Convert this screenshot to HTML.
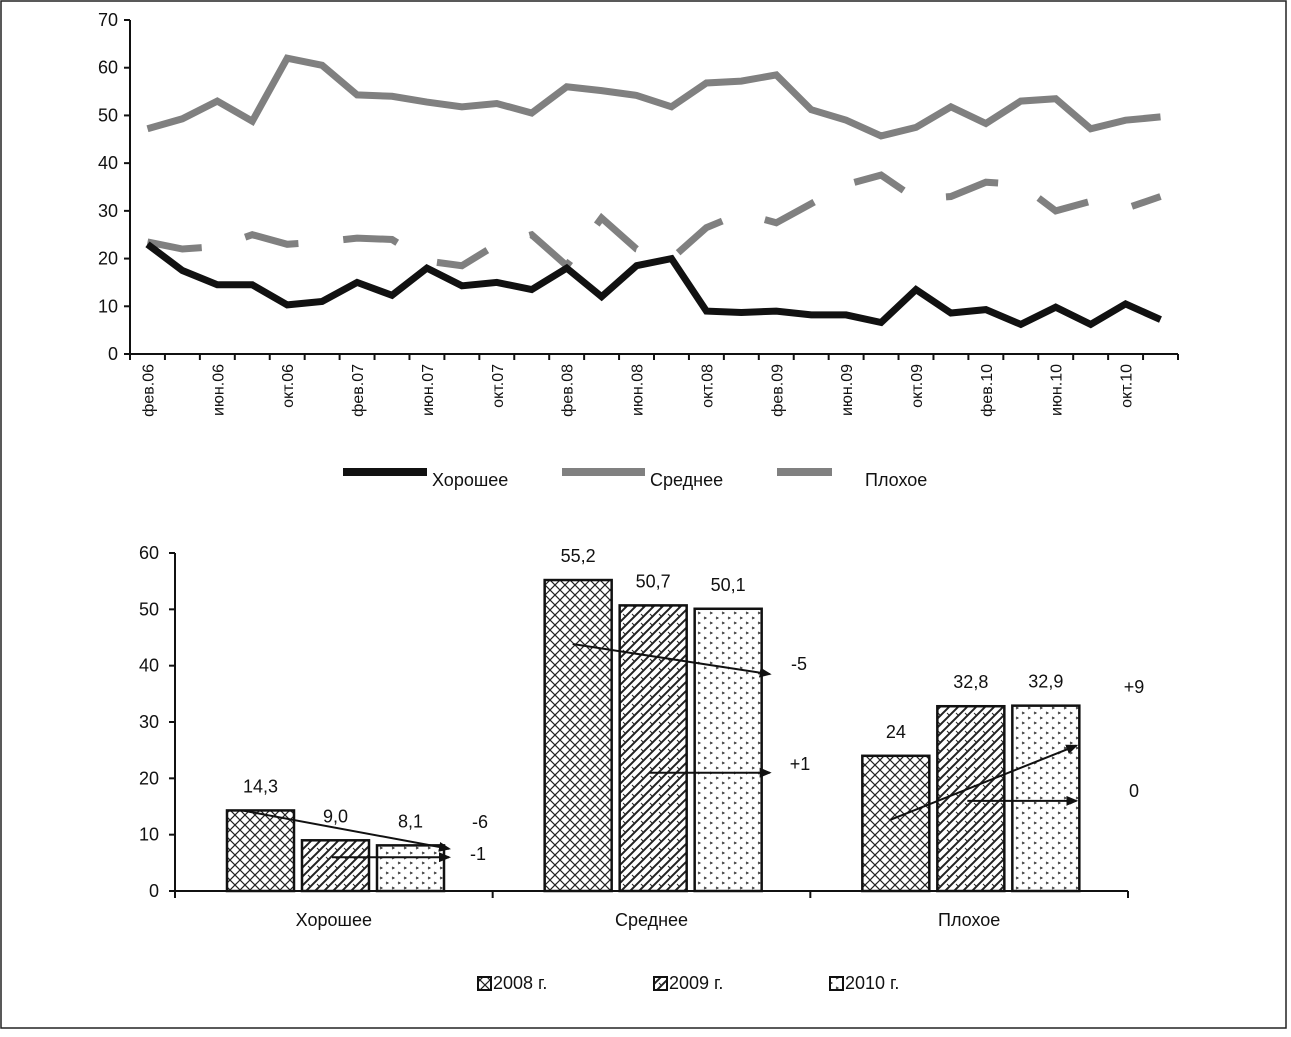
<!DOCTYPE html>
<html><head><meta charset="utf-8"><style>
body{margin:0;background:#fff;}
svg text{font-family:"Liberation Sans",sans-serif;fill:#111;}
</style></head><body>
<svg id="c" width="1291" height="1032" xmlns="http://www.w3.org/2000/svg">
<defs>
<pattern id="p2008" width="10" height="10" patternUnits="userSpaceOnUse"><path d="M0 0L10 10M10 0L0 10" stroke="#222" stroke-width="1.2"/></pattern>
<pattern id="p2009" width="9" height="9" patternUnits="userSpaceOnUse"><path d="M-2 11L11 -2M-2 2L2 -2M7 11L11 7" stroke="#222" stroke-width="2"/><path d="M2 2L5 5" stroke="#222" stroke-width="1"/></pattern>
<pattern id="p2010" width="12" height="10" patternUnits="userSpaceOnUse"><path d="M2 2l2 1l-2 1M8 7l2 1l-2 1" stroke="#333" stroke-width="1" fill="none"/></pattern>
<marker id="arr" markerWidth="12" markerHeight="10" refX="10" refY="5" orient="auto" markerUnits="userSpaceOnUse"><path d="M0 0L12 5L0 10z" fill="#111"/></marker>
</defs>
<rect x="1" y="1" width="1285" height="1027" fill="none" stroke="#222" stroke-width="1.5"/>
<g id="topChart"></g>
<g id="botChart"></g>
</svg>
<script>
const months=["фев","апр","июн","авг","окт","дек"];
const years=["06","07","08","09","10"];
const good=[23,17.5,14.5,14.5,10.3,11,15,12.3,18,14.3,15,13.5,18,12,18.5,20,9,8.7,9,8.2,8.2,6.6,13.5,8.6,9.3,6.2,9.8,6.2,10.5,7.2];
const mid=[47.2,49.3,53,48.8,62,60.5,54.3,54,52.8,51.8,52.5,50.5,56,55.2,54.2,51.8,56.8,57.2,58.5,51.2,49,45.7,47.5,51.8,48.3,53,53.5,47.2,49,49.7];
const bad=[23.5,22,22.5,25,23,23.5,24.3,24,19.5,18.5,23,25,18.5,28.5,22,20,26.5,29.5,27.5,31.5,35.5,37.5,32.5,33,36,35.5,30,32,30.5,33];
const yTicks=[0,10,20,30,40,50,60,70];
const bcats=["Хорошее","Среднее","Плохое"];
const v2008=[14.3,55.2,24];
const v2009=[9.0,50.7,32.8];
const v2010=[8.1,50.1,32.9];
const lbl2008=["14,3","55,2","24"];
const lbl2009=["9,0","50,7","32,8"];
const lbl2010=["8,1","50,1","32,9"];
const bTicks=[0,10,20,30,40,50,60];
const NS="http://www.w3.org/2000/svg";
function mk(p,t,a){const e=document.createElementNS(NS,t);for(const k in a)e.setAttribute(k,a[k]);p.appendChild(e);return e;}
const topG=document.getElementById('topChart');
const cats=[];for(const y of years)for(const m of months)cats.push(m+"."+y);
const N=good.length;
const X0=130,X1=1178,Y0=354,Y70=20;
const bw=(X1-X0)/N;
const xs=i=>X0+bw*(i+0.5);
const ys=v=>Y0-(Y0-Y70)*v/70;
let ax=mk(topG,'path',{d:`M${X0} ${Y70}V${Y0}H${X1}`,stroke:'#111','stroke-width':2,fill:'none'});


for(const t of yTicks){
 mk(topG,'line',{x1:X0-6,x2:X0,y1:ys(t),y2:ys(t),stroke:'#111','stroke-width':2});
 const tx=mk(topG,'text',{x:X0-12,y:ys(t)+6,'text-anchor':'end','font-size':18});
 tx.textContent=t;
 
 
}
for(let i=0;i<=N;i++)mk(topG,'line',{x1:X0+bw*i,x2:X0+bw*i,y1:Y0,y2:Y0+6,stroke:'#111','stroke-width':2});
for(let i=0;i<N;i+=2){
 const tx=mk(topG,'text',{transform:`translate(${xs(i)+6},${Y0+10}) rotate(-90)`,'text-anchor':'end','font-size':16});
 tx.textContent=cats[i];
 
 
}
function line(arr,col,dash,name){
 const d=arr.map((v,i)=>(i?'L':'M')+xs(i).toFixed(1)+' '+ys(v).toFixed(1)).join('');
 const p=mk(topG,'path',{d,stroke:col,'stroke-width':7,fill:'none','stroke-linejoin':'miter'});
 if(dash)p.setAttribute('stroke-dasharray',dash);
 
 
}
line(mid,'#808080',null,'series-srednee');
line(bad,'#808080','55 45','series-plokhoe');
line(good,'#111',null,'series-khoroshee');
const leg=[["Хорошее",343,427,'#111',432],["Среднее",562,645,'#808080',650],["Плохое",777,832,'#808080',865]];
for(const l of leg){
 const g=mk(topG,'g',{});
 
 
 mk(g,'line',{x1:l[1],x2:l[2],y1:472,y2:472,stroke:l[3],'stroke-width':8});
 const t=mk(g,'text',{x:l[4],y:486,'font-size':18});t.textContent=l[0];
}
const botG=document.getElementById('botChart');
const BX0=175,BX1=1128,BY0=891,BY60=553;
const by=v=>BY0-(BY0-BY60)*v/60;
const gw=(BX1-BX0)/3;
let bax=mk(botG,'path',{d:`M${BX0} ${BY60}V${BY0}H${BX1}`,stroke:'#111','stroke-width':2,fill:'none'});


for(const t of bTicks){
 mk(botG,'line',{x1:BX0-6,x2:BX0,y1:by(t),y2:by(t),stroke:'#111','stroke-width':2});
 const tx=mk(botG,'text',{x:BX0-16,y:by(t)+6,'text-anchor':'end','font-size':18});tx.textContent=t;
 
 
}
for(let i=0;i<=3;i++)mk(botG,'line',{x1:BX0+gw*i,x2:BX0+gw*i,y1:BY0,y2:BY0+7,stroke:'#111','stroke-width':2});
const series=[[v2008,lbl2008,'url(#p2008)'],[v2009,lbl2009,'url(#p2009)'],[v2010,lbl2010,'url(#p2010)']];
const barW=67,gap=8;
const bx=(c,s)=>BX0+gw*c+52+s*(barW+gap);
for(let c=0;c<3;c++){
 const tx=mk(botG,'text',{x:BX0+gw*(c+0.5),y:926,'text-anchor':'middle','font-size':18});tx.textContent=bcats[c];
 
 
 for(let s=0;s<3;s++){
  const v=series[s][0][c];
  const r=mk(botG,'rect',{x:bx(c,s),y:by(v),width:barW,height:BY0-by(v),fill:series[s][2],stroke:'#111','stroke-width':2.5});
  
  
  const t=mk(botG,'text',{x:bx(c,s)+barW/2,y:by(v)-18,'text-anchor':'middle','font-size':18});t.textContent=series[s][1][c];
  
  
 }
}
for(let c=0;c<3;c++){
 const xe=bx(c,2)+barW+(c==0?5:(c==1?8:-3));
 const a1=mk(botG,'line',{x1:bx(c,0)+(c==0?15:28),y1:by(series[0][0][c])+(c==0?0:64),x2:xe,y2:c==0?by(7.5):(c==1?by(38.5):by(25.8)),stroke:'#111','stroke-width':2,'marker-end':'url(#arr)'});
 
 
 const yy=c==0?by(6):(c==1?by(21):by(16));
 const a2=mk(botG,'line',{x1:bx(c,1)+30,y1:yy,x2:xe,y2:yy,stroke:'#111','stroke-width':2,'marker-end':'url(#arr)'});
 
 
}
const dl=[[480,828,"-6"],[478,860,"-1"],[799,670,"-5"],[800,770,"+1"],[1134,693,"+9"],[1134,797,"0"]];
for(const d of dl){
 const t=mk(botG,'text',{x:d[0],y:d[1],'text-anchor':'middle','font-size':18});t.textContent=d[2];
 
 
}
const bl=[["2008 г.",478,'url(#p2008)'],["2009 г.",654,'url(#p2009)'],["2010 г.",830,'url(#p2010)']];
for(const l of bl){
 const g=mk(botG,'g',{});
 
 
 mk(g,'rect',{x:l[1],y:977,width:13,height:13,fill:l[2],stroke:'#111','stroke-width':2});
 const t=mk(g,'text',{x:l[1]+15,y:989,'font-size':18});t.textContent=l[0];
}
</script>
</body></html>
